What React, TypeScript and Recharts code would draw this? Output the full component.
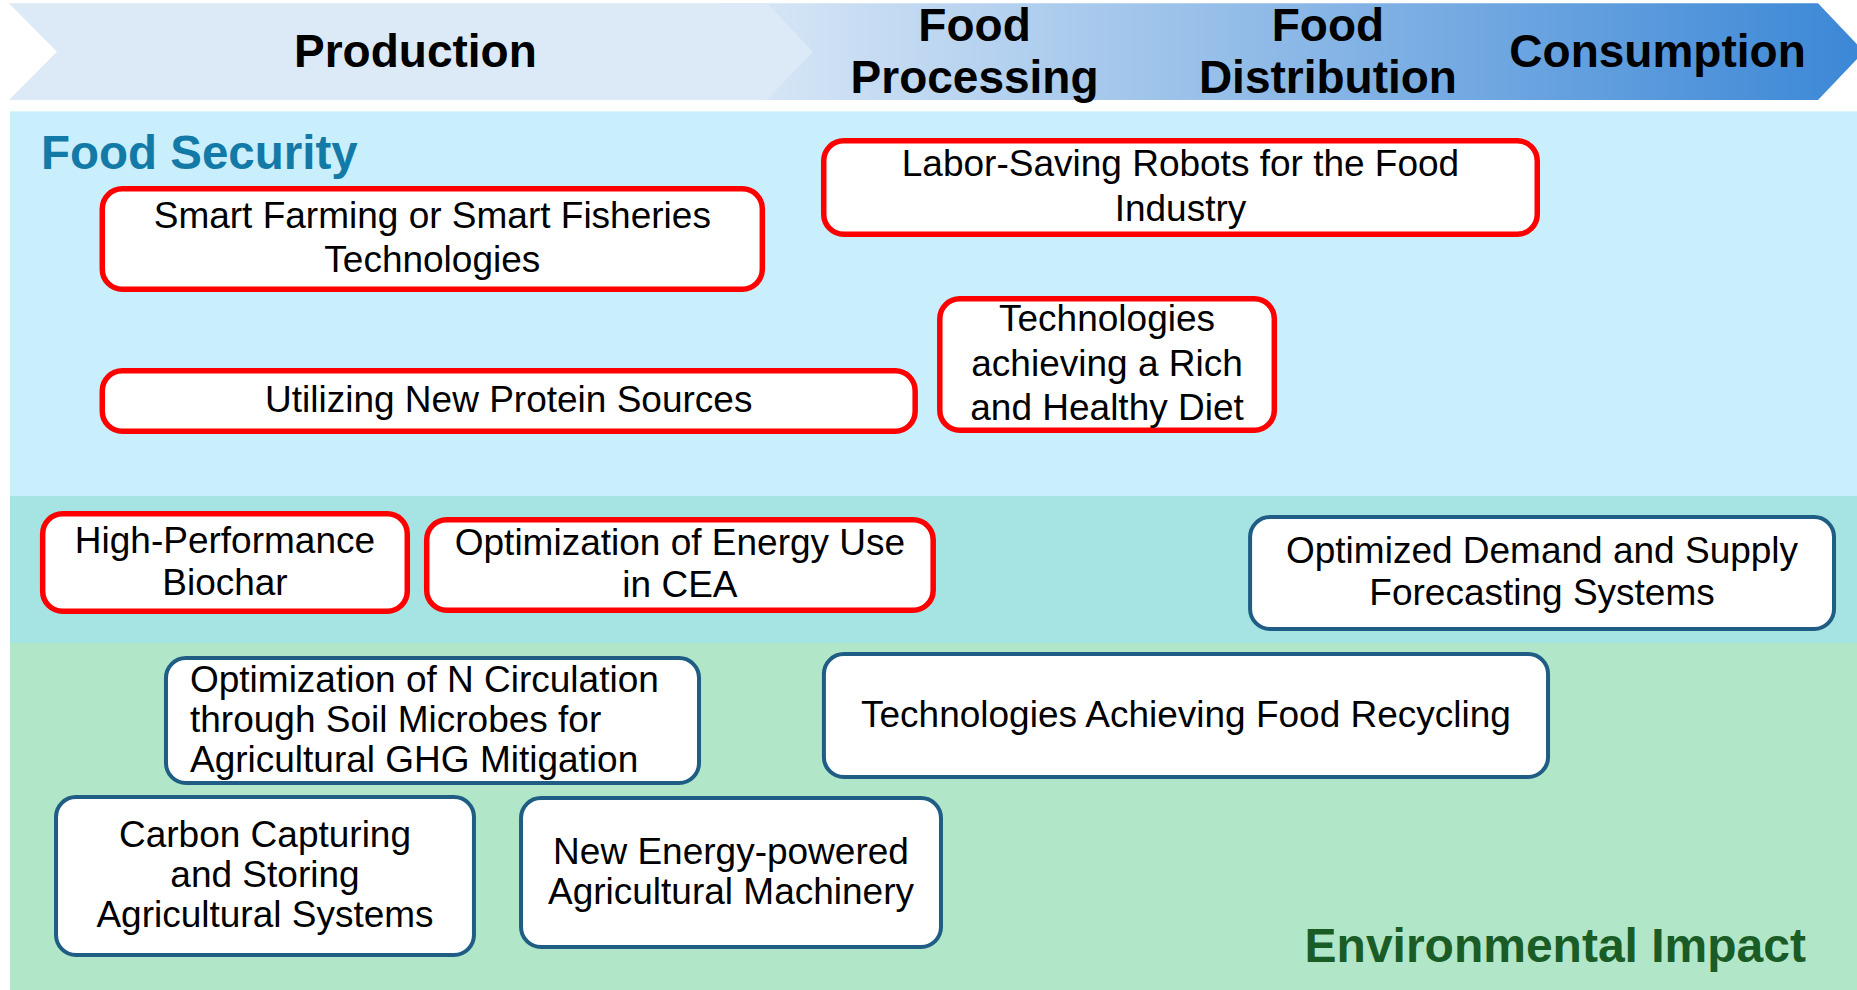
import React from 'react';
import { ComposedChart, XAxis, YAxis, ReferenceArea, Scatter } from 'recharts';

// x axis: position along the food value chain (0-100), y axis: 0 at top, 100 at bottom
const stages = ['Production', 'Food\nProcessing', 'Food\nDistribution', 'Consumption'];
const stageCenters = [22.37, 52.48, 71.51, 89.26];

// header arrow: first chevron (Production) and the gradient chevron for the later stages
const arrowStart = [0.48, 38.8];
const arrowEnd = [41.3, 97.9];
const arrowTop = 0.33;
const arrowBottom = 10.1;

// lanes
const laneNames = ['Food Security', '', 'Environmental Impact'];
const laneTop = [11.25, 50.1, 64.95];
const laneBottom = [50.1, 64.95, 100];
const laneLeft = 0.54;
const laneRight = 100;

// technologies
const technologies = [
  'Smart Farming or Smart Fisheries\nTechnologies',
  'Labor-Saving Robots for the Food\nIndustry',
  'Technologies\nachieving a Rich\nand Healthy Diet',
  'Utilizing New Protein Sources',
  'High-Performance\nBiochar',
  'Optimization of Energy Use\nin CEA',
  'Optimized Demand and Supply\nForecasting Systems',
  'Optimization of N Circulation\nthrough Soil Microbes for\nAgricultural GHG Mitigation',
  'Technologies Achieving Food Recycling',
  'Carbon Capturing\nand Storing\nAgricultural Systems',
  'New Energy-powered\nAgricultural Machinery',
];
const lanes = [0, 0, 0, 0, 1, 1, 1, 2, 2, 2, 2];
const highlighted = [true, true, true, true, true, true, false, false, false, false, false];
const techStart = [5.36, 44.21, 50.46, 5.36, 2.15, 22.83, 67.21, 8.83, 44.26, 2.91, 27.95];
const techEnd = [41.2, 82.93, 68.77, 49.43, 22.08, 50.4, 98.87, 37.75, 83.47, 25.63, 50.78];
const techTop = [18.79, 13.94, 29.9, 37.17, 51.62, 52.22, 52.02, 66.26, 65.86, 80.3, 80.4];
const techBottom = [29.49, 23.94, 43.74, 43.84, 62.02, 61.92, 63.74, 79.29, 78.69, 96.67, 95.86];

const stageData = stages.map((s, i) => ({
  stage: s,
  x: stageCenters[i],
  y: (arrowTop + arrowBottom) / 2,
}));

// styles
const FONT = '"Liberation Sans", Arial, sans-serif';
const BOX_FONT = 37;
const LANE_COLORS = ['#c9eefc', '#a6e3e3', '#b2e6c9'];
const LINE_HEIGHT = [44.5, 42, 40];
const LEFT_ALIGNED = new Set([7]);
const TIP = 46;
const NOTCH = 48;

const renderStage = (props: any) => {
  const { cx, cy, payload } = props;
  const lines = String(payload.stage).split('\n');
  const first = cy - ((lines.length - 1) * 52) / 2 + 15;
  return (
    <text textAnchor="middle" fontFamily={FONT} fontWeight="bold" fontSize={46} fill="#000">
      {lines.map((l, k) => (
        <tspan key={k} x={cx} y={first + k * 52}>{l}</tspan>
      ))}
    </text>
  );
};

const renderArrow = (i: number) => (p: any) => {
  const { x, y, width, height } = p;
  const r = x + width;
  const my = y + height / 2;
  const notch = i === 0 ? NOTCH : 0;
  const pts = [
    [x, y], [r, y], [r + TIP, my], [r, y + height], [x, y + height], [x + notch, my],
  ].map((q) => q.join(',')).join(' ');
  return <polygon points={pts} fill={i === 0 ? '#dce9f6' : 'url(#chainGrad)'} />;
};

const renderLane = (i: number) => (p: any) => {
  const { x, y, width, height } = p;
  let label = null;
  if (i === 0) {
    label = (
      <text x={x + 31} y={y + 58} fontFamily={FONT} fontWeight="bold" fontSize={47.5} fill="#137aa7">
        {laneNames[i]}
      </text>
    );
  } else if (i === 2) {
    label = (
      <text x={x + width - 51} y={y + height - 28} textAnchor="end" fontFamily={FONT} fontWeight="bold" fontSize={48} fill="#1a5c26">
        {laneNames[i]}
      </text>
    );
  }
  return (
    <g>
      <rect x={x} y={y} width={width} height={height} fill={LANE_COLORS[i]} />
      {label}
    </g>
  );
};

const renderBox = (i: number) => (p: any) => {
  const { x, y, width, height } = p;
  const hl = highlighted[i];
  const sw = hl ? 5.5 : 4;
  const lines = technologies[i].split('\n');
  const lh = LINE_HEIGHT[lanes[i]];
  const first = y + height / 2 - ((lines.length - 1) * lh) / 2 + BOX_FONT * 0.3;
  const left = LEFT_ALIGNED.has(i);
  const tx = left ? x + 26 : x + width / 2;
  return (
    <g>
      <rect
        x={x + sw / 2}
        y={y + sw / 2}
        width={width - sw}
        height={height - sw}
        rx={20}
        ry={20}
        fill="#ffffff"
        stroke={hl ? '#ff0000' : '#1f5d84'}
        strokeWidth={sw}
      />
      <text textAnchor={left ? 'start' : 'middle'} fontFamily={FONT} fontSize={BOX_FONT} fill="#000">
        {lines.map((l, k) => (
          <tspan key={k} x={tx} y={first + k * lh}>{l}</tspan>
        ))}
      </text>
    </g>
  );
};

export default function App() {
  return (
    <div style={{ position: 'absolute', left: 0, top: 0, width: 1857, height: 990, background: '#fff' }}>
      <ComposedChart width={1857} height={990} data={stageData} margin={{ top: 0, right: 0, bottom: 0, left: 0 }}>
        <defs>
          <linearGradient id="chainGrad" x1="0" y1="0" x2="1" y2="0">
            <stop offset="0%" stopColor="#dce9f7" />
            <stop offset="100%" stopColor="#3b87d6" />
          </linearGradient>
        </defs>
        <XAxis type="number" dataKey="x" domain={[0, 100]} allowDataOverflow hide height={0} />
        <YAxis type="number" dataKey="y" domain={[0, 100]} allowDataOverflow reversed hide width={0} />

        {laneNames.map((_, i) => (
          <ReferenceArea
            key={`lane-${i}`}
            x1={laneLeft}
            x2={laneRight}
            y1={laneTop[i]}
            y2={laneBottom[i]}
            ifOverflow="visible"
            shape={renderLane(i)}
          />
        ))}

        {[1, 0].map((i) => (
          <ReferenceArea
            key={`arrow-${i}`}
            x1={arrowStart[i]}
            x2={arrowEnd[i]}
            y1={arrowTop}
            y2={arrowBottom}
            ifOverflow="visible"
            shape={renderArrow(i)}
          />
        ))}

        {technologies.map((_, i) => (
          <ReferenceArea
            key={`tech-${i}`}
            x1={techStart[i]}
            x2={techEnd[i]}
            y1={techTop[i]}
            y2={techBottom[i]}
            ifOverflow="visible"
            shape={renderBox(i)}
          />
        ))}

        <Scatter data={stageData} dataKey="y" isAnimationActive={false} shape={renderStage} />
      </ComposedChart>
    </div>
  );
}
